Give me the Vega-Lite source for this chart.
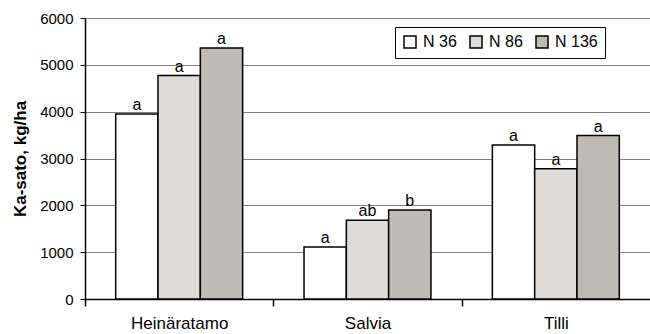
{
  "$schema": "https://vega.github.io/schema/vega-lite/v6.json",
  "width": 565,
  "height": 281,
  "autosize": {"type": "none"},
  "padding": {"left": 85, "top": 18, "right": 0, "bottom": 35},
  "background": "white",
  "config": {
    "font": "Liberation Sans",
    "view": {"stroke": null},
    "legend": {"strokeColor": "black", "strokeWidth": 1}
  },
  "data": {
    "values": [
      {"kasvi": "Heinäratamo", "N": "N 36", "sato": 3950, "sig": "a"},
      {"kasvi": "Heinäratamo", "N": "N 86", "sato": 4770, "sig": "a"},
      {"kasvi": "Heinäratamo", "N": "N 136", "sato": 5360, "sig": "a"},
      {"kasvi": "Salvia", "N": "N 36", "sato": 1110, "sig": "a"},
      {"kasvi": "Salvia", "N": "N 86", "sato": 1680, "sig": "ab"},
      {"kasvi": "Salvia", "N": "N 136", "sato": 1900, "sig": "b"},
      {"kasvi": "Tilli", "N": "N 36", "sato": 3290, "sig": "a"},
      {"kasvi": "Tilli", "N": "N 86", "sato": 2780, "sig": "a"},
      {"kasvi": "Tilli", "N": "N 136", "sato": 3490, "sig": "a"}
    ]
  },
  "encoding": {
    "x": {
      "field": "kasvi",
      "type": "nominal",
      "sort": ["Heinäratamo", "Salvia", "Tilli"],
      "scale": {"paddingInner": 0.326, "paddingOuter": 0.163},
      "axis": {
        "title": null,
        "labelAngle": 0,
        "labelFontSize": 17,
        "labelColor": "black",
        "labelPadding": 9,
        "domainColor": "black",
        "domainWidth": 1.5,
        "ticks": true,
        "tickColor": "black",
        "tickWidth": 1.5,
        "tickSize": 7,
        "tickOffset": -94.17,
        "labelOffset": 94.17,
        "grid": false
      }
    },
    "xOffset": {"field": "N", "type": "nominal", "sort": ["N 36", "N 86", "N 136"], "scale": {"paddingInner": 0, "paddingOuter": 0}},
    "y": {
      "field": "sato",
      "type": "quantitative",
      "scale": {"domain": [0, 6000], "nice": false},
      "axis": {
        "title": "Ka-sato, kg/ha",
        "titleFontSize": 17,
        "titleFontWeight": "bold",
        "titleColor": "black",
        "titlePadding": 10,
        "values": [0, 1000, 2000, 3000, 4000, 5000, 6000],
        "format": "d",
        "labelFontSize": 15,
        "labelColor": "black",
        "labelPadding": 7,
        "domainColor": "black",
        "domainWidth": 1.5,
        "tickColor": "black",
        "tickWidth": 1,
        "tickSize": 5,
        "grid": true,
        "gridColor": "#808080",
        "gridWidth": 1
      }
    }
  },
  "layer": [
    {
      "mark": {"type": "bar", "stroke": "black", "strokeWidth": 1.5},
      "encoding": {
        "fill": {
          "field": "N",
          "type": "nominal",
          "sort": ["N 36", "N 86", "N 136"],
          "scale": {"domain": ["N 36", "N 86", "N 136"], "range": ["#ffffff", "#dfdbd8", "#bebab5"]},
          "legend": {
            "title": null,
            "orient": "none",
            "legendX": 310,
            "legendY": 9,
            "direction": "horizontal",
            "symbolType": "square",
            "symbolSize": 144,
            "symbolStrokeColor": "black",
            "symbolStrokeWidth": 1.5,
            "labelFontSize": 16,
            "labelColor": "black",
            "labelOffset": 5,
            "columnPadding": 10,
            "padding": 7,
            "fillColor": "white"
          }
        }
      }
    },
    {
      "mark": {"type": "text", "baseline": "bottom", "dy": -1, "fontSize": 16, "color": "black"},
      "encoding": {
        "text": {"field": "sig"}
      }
    }
  ]
}
